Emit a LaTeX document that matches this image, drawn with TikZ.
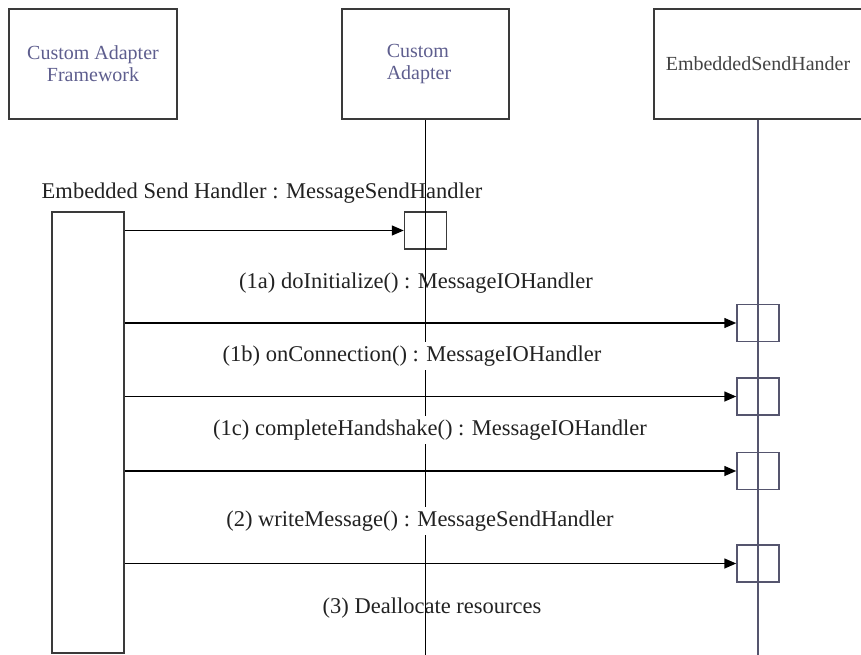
\documentclass[tikz,border=0pt]{standalone}
\usepackage{fontspec}
\setmainfont{Liberation Serif}
\usetikzlibrary{arrows.meta}
\definecolor{boxline}{HTML}{3A3A3A}
\definecolor{lifeblue}{HTML}{55556E}
\definecolor{titleblue}{HTML}{5E5E8E}
\definecolor{txtgray}{HTML}{222222}
\tikzset{
  objbox/.style={draw=boxline, line width=1.8pt, inner sep=0pt, align=center,
    font=\fontsize{20}{22}\selectfont},
  actbox/.style={draw=boxline, line width=1.5pt, inner sep=0pt, fill=none},
  lifeline/.style={line width=1.5pt},
  msg/.style={line width=1.5pt, -{Triangle[length=12pt,width=10pt]}},
  msglabel/.style={font=\fontsize{22.5}{24}\selectfont, text=txtgray, inner sep=1pt},
  msglabelw/.style={msglabel, fill=white, inner sep=4pt}
}
\begin{document}
\begin{tikzpicture}[x=1pt,y=-1pt]
\useasboundingbox (0,0) rectangle (861,655);
\clip (0,0) rectangle (861,655);
% object boxes
\node[objbox, minimum width=168pt, minimum height=110pt, text=titleblue] (fw) at (93,64) {Custom Adapter\\Framework};
\node[objbox, minimum width=167pt, minimum height=110pt] (ca) at (425.5,64) {};
\node[text=titleblue, align=left, font=\fontsize{20}{22}\selectfont, inner sep=0pt] (catext) at (419,64) {Custom\\Adapter};
\node[objbox, minimum width=208pt, minimum height=110pt, text=txtgray!85!white] (esh) at (758,64) {EmbeddedSendHander};
% lifeline ends
\coordinate (caend) at (425.5,660);
\coordinate (eshend) at (758,660);
% activation boxes
\node[actbox, minimum width=72pt, minimum height=441pt] (lact) at (88,432.5) {};
\node[actbox, minimum width=42pt, minimum height=37pt] (cact) at (425.5,230.5) {};
\node[actbox, draw=lifeblue, minimum width=42pt, minimum height=37pt] (r1) at (758,323) {};
\node[actbox, draw=lifeblue, minimum width=42pt, minimum height=37pt] (r2) at (758,396.5) {};
\node[actbox, draw=lifeblue, minimum width=42pt, minimum height=37pt] (r3) at (758,471) {};
\node[actbox, draw=lifeblue, minimum width=42pt, minimum height=37pt] (r4) at (758,563.5) {};
% lifelines
\draw[lifeline, black] (ca.south) -- (caend);
\draw[lifeline, lifeblue] (esh.south) -- (eshend);
% labels
\node[msglabel] (l0) at (262,193) {Embedded Send Handler : MessageSendHandler};
\node[msglabel] (l1) at (416,283) {(1a) doInitialize() : MessageIOHandler};
\node[msglabelw] (l2) at (412,356) {(1b) onConnection() : MessageIOHandler};
\node[msglabelw] (l3) at (430,430) {(1c) completeHandshake() : MessageIOHandler};
\node[msglabelw] (l4) at (420,521) {(2) writeMessage() : MessageSendHandler};
\node[msglabel] (l5) at (432,608) {(3) Deallocate resources};
% messages
\draw[msg] (cact.west -| lact.east) -- (cact.west);
\draw[msg] (r1.west -| lact.east) -- (r1.west);
\draw[msg] (r2.west -| lact.east) -- (r2.west);
\draw[msg] (r3.west -| lact.east) -- (r3.west);
\draw[msg] (r4.west -| lact.east) -- (r4.west);
\end{tikzpicture}
\end{document}
